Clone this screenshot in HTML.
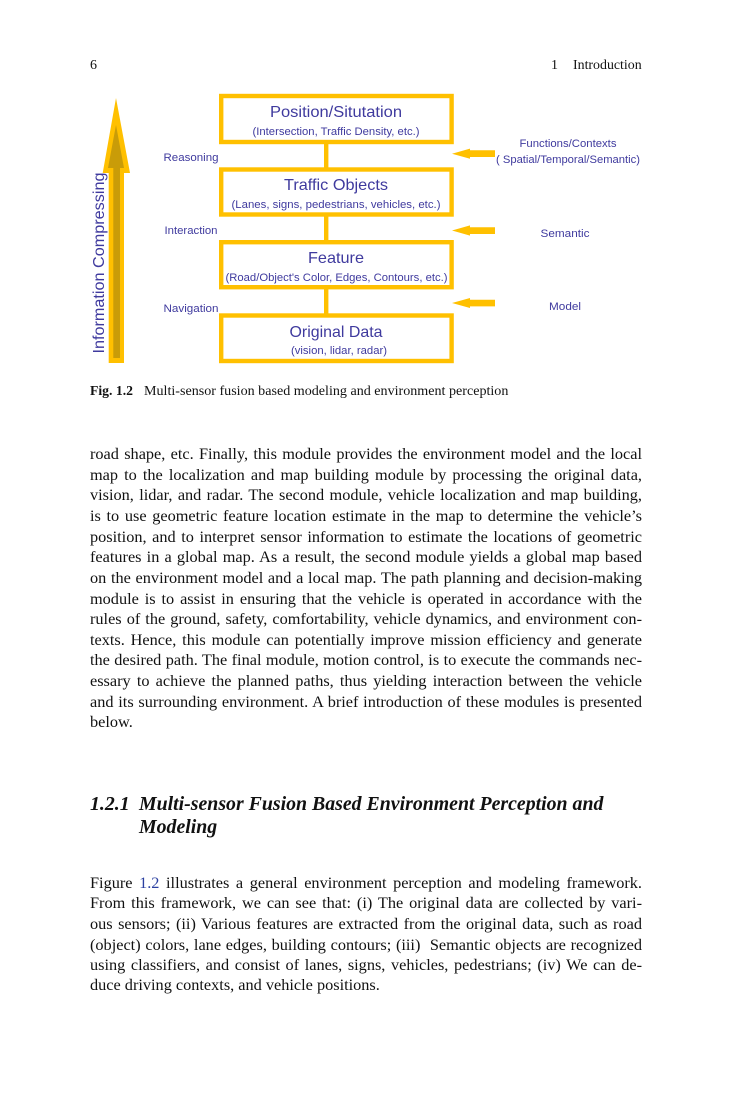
<!DOCTYPE html>
<html><head><meta charset="utf-8"><style>
html,body{margin:0;padding:0;background:#fff}
body{width:732px;height:1110px;position:relative;overflow:hidden;font-family:"Liberation Serif",serif;color:#111}
.l{position:absolute;left:90px;width:552px;font-size:16.3px;line-height:20px;height:20px;white-space:nowrap;text-align:justify;text-align-last:justify}
.n{text-align-last:left}
.a{position:absolute;white-space:nowrap;line-height:20px}
svg{position:absolute;left:0;top:0}
svg text{font-family:"Liberation Sans",sans-serif;fill:#3f3a9e;filter:blur(.25px)}
</style></head><body>
<div class="a" style="left:90px;top:56px;font-size:14px">6</div>
<div class="a" style="left:551px;top:56px;font-size:14px">1</div>
<div class="a" style="left:573px;top:56px;font-size:13.9px">Introduction</div>
<svg width="732" height="420" viewBox="0 0 732 420">
<g fill="#fff" stroke="#ffc000" stroke-width="4.4">
<rect x="221.2" y="96" width="230.4" height="46"/>
<rect x="221.2" y="169.5" width="230.4" height="45"/>
<rect x="221.2" y="242.2" width="230.4" height="45"/>
<rect x="221.2" y="315.5" width="230.4" height="45.5"/>
</g>
<g fill="#ffc000">
<rect x="324" y="144" width="4.4" height="24"/>
<rect x="324" y="216" width="4.4" height="25"/>
<rect x="324" y="289" width="4.4" height="25"/>
<polygon points="116,98 130,173 124,173 124,363 108.7,363 108.7,173 102.7,173"/>
<polygon points="452,153.7 470,148.6 470,150.3 495,150.3 495,157 470,157 470,158.8"/>
<polygon points="452,230.5 470,225.4 470,227.3 495,227.3 495,234 470,234 470,235.6"/>
<polygon points="452,303 470,298 470,299.7 495,299.7 495,306.4 470,306.4 470,308"/>
</g>
<polygon fill="#c99c08" points="116,125 124,168 120,168 120,358 113.3,358 113.3,168 108,168"/>
<g text-anchor="middle">
<text x="336" y="117" font-size="16" textLength="132" lengthAdjust="spacingAndGlyphs">Position/Situtation</text>
<text x="336" y="135" font-size="11" textLength="167" lengthAdjust="spacingAndGlyphs">(Intersection, Traffic Density, etc.)</text>
<text x="336" y="190" font-size="16" textLength="104" lengthAdjust="spacingAndGlyphs">Traffic Objects</text>
<text x="336" y="208" font-size="11" textLength="209" lengthAdjust="spacingAndGlyphs">(Lanes, signs,  pedestrians, vehicles, etc.)</text>
<text x="336" y="263" font-size="16" textLength="56" lengthAdjust="spacingAndGlyphs">Feature</text>
<text x="336.5" y="281" font-size="11" textLength="222" lengthAdjust="spacingAndGlyphs">(Road/Object's Color, Edges, Contours, etc.)</text>
<text x="336" y="337" font-size="16" textLength="93" lengthAdjust="spacingAndGlyphs">Original Data</text>
<text x="339" y="354" font-size="11" textLength="96" lengthAdjust="spacingAndGlyphs">(vision, lidar, radar)</text>
<text x="191" y="161" font-size="11" textLength="55" lengthAdjust="spacingAndGlyphs">Reasoning</text>
<text x="191" y="234" font-size="11" textLength="53" lengthAdjust="spacingAndGlyphs">Interaction</text>
<text x="191" y="312" font-size="11" textLength="55" lengthAdjust="spacingAndGlyphs">Navigation</text>
<text x="568" y="147" font-size="11" textLength="97" lengthAdjust="spacingAndGlyphs">Functions/Contexts</text>
<text x="568" y="163" font-size="11" textLength="144" lengthAdjust="spacingAndGlyphs">( Spatial/Temporal/Semantic)</text>
<text x="565" y="237" font-size="11" textLength="49" lengthAdjust="spacingAndGlyphs">Semantic</text>
<text x="565" y="310" font-size="11" textLength="32" lengthAdjust="spacingAndGlyphs">Model</text>
<text transform="translate(104,263) rotate(-90)" font-size="15.5" textLength="181" lengthAdjust="spacingAndGlyphs">Information Compressing</text>
</g>
</svg>
<div class="a" style="left:90px;top:380px;font-size:13.7px;font-weight:bold;line-height:21px">Fig. 1.2</div>
<div class="a" style="left:144px;top:381px;font-size:14.08px;line-height:21px">Multi-sensor fusion based modeling and environment perception</div>
<div class="l" style="top:444px">road shape, etc. Finally, this module provides the environment model and the local</div>
<div class="l" style="top:465px">map to the localization and map building module by processing the original data,</div>
<div class="l" style="top:485px">vision, lidar, and radar. The second module, vehicle localization and map building,</div>
<div class="l" style="top:506px">is to use geometric feature location estimate in the map to determine the vehicle’s</div>
<div class="l" style="top:527px">position, and to interpret sensor information to estimate the locations of geometric</div>
<div class="l" style="top:547px">features in a global map. As a result, the second module yields a global map based</div>
<div class="l" style="top:568px">on the environment model and a local map. The path planning and decision-making</div>
<div class="l" style="top:589px">module is to assist in ensuring that the vehicle is operated in accordance with the</div>
<div class="l" style="top:609px">rules of the ground, safety, comfortability, vehicle dynamics, and environment con-</div>
<div class="l" style="top:630px">texts. Hence, this module can potentially improve mission efficiency and generate</div>
<div class="l" style="top:650px">the desired path. The final module, motion control, is to execute the commands nec-</div>
<div class="l" style="top:671px">essary to achieve the planned paths, thus yielding interaction between the vehicle</div>
<div class="l" style="top:692px">and its surrounding environment. A brief introduction of these modules is presented</div>
<div class="l n" style="top:712px">below.</div>
<div class="a" style="left:90px;top:794px;font-size:19.84px;font-weight:bold;font-style:italic">1.2.1</div>
<div class="a" style="left:139px;top:794px;font-size:19.84px;font-weight:bold;font-style:italic">Multi-sensor Fusion Based Environment Perception and</div>
<div class="a" style="left:139px;top:817px;font-size:19.84px;font-weight:bold;font-style:italic">Modeling</div>
<div class="l" style="top:873px">Figure <span style="color:#2a3fa0">1.2</span> illustrates a general environment perception and modeling framework.</div>
<div class="l" style="top:893.4px">From this framework, we can see that: (i) The original data are collected by vari-</div>
<div class="l" style="top:914.2px">ous sensors; (ii) Various features are extracted from the original data, such as road</div>
<div class="l" style="top:934.8px">(object) colors, lane edges, building contours; (iii)&nbsp; Semantic objects are recognized</div>
<div class="l" style="top:955.4px">using classifiers, and consist of lanes, signs, vehicles, pedestrians; (iv) We can de-</div>
<div class="l n" style="top:975.4px">duce driving contexts, and vehicle positions.</div>
</body></html>
